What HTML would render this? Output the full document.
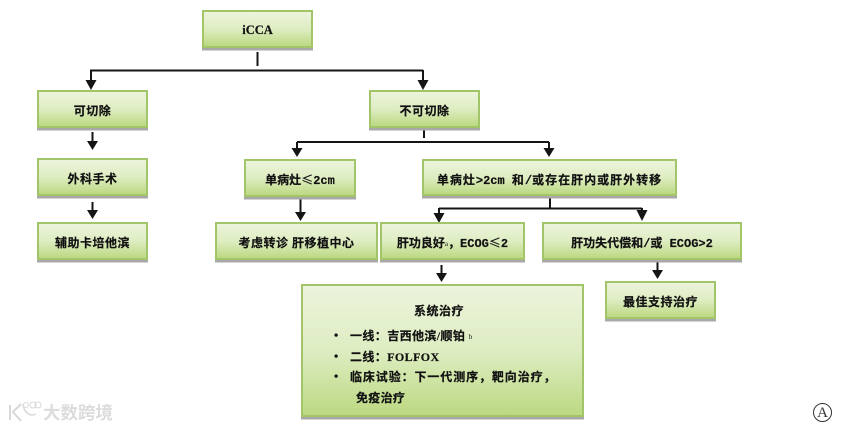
<!DOCTYPE html>
<html><head><meta charset="utf-8">
<style>
html,body{margin:0;padding:0;background:#fff}
#c{position:relative;width:868px;height:429px;overflow:hidden;background:#fff;font-family:"Liberation Serif","Noto Sans CJK SC",serif;color:#111}
.b{position:absolute;box-sizing:border-box;border:2px solid #a3c569;padding-top:3px;background:linear-gradient(180deg,#ecf4dc 0%,#deedc2 50%,#bcd982 100%);box-shadow:0 2.5px 0 #a8a8a8;display:flex;align-items:center;justify-content:center;font-size:12px;font-weight:bold;white-space:nowrap;-webkit-text-stroke:.2px #111}
.b span.w{display:inline-block;white-space:pre}
.t{position:absolute;font-size:12px;font-weight:bold;white-space:pre;line-height:14px;-webkit-text-stroke:.2px #111}
.m{font-family:"Liberation Mono",monospace;font-weight:bold;letter-spacing:0}
.s{font-family:"Noto Sans CJK SC",sans-serif;font-weight:normal}
svg{position:absolute;left:0;top:0}
sup{font-size:7px;font-weight:normal;position:relative;top:-1px;vertical-align:baseline;-webkit-text-stroke:0}
</style></head><body>
<div id="c">
<svg width="868" height="429" fill="none" stroke="#151515" stroke-width="2">
<path d="M257.500 52V66M90 70.500H423"/>
<path d="M91 70V82M423 70V82M92.500 132V143M92.500 202V212M424 130V138M297 142H549M297 142V150M549 142V150"/>
<path d="M300.500 199V214M550 198V208M439 208.500H642M439 208V215M642 208V212M441.500 265V275M657.500 262V272"/>
<g fill="#151515" stroke="none">
<path d="M85.500 80H96.500L91 90ZM417.500 80H428.500L423 90Z"/>
<path d="M87 141H98L92.500 150ZM87 210H98L92.500 219Z"/>
<path d="M291.500 148H302.500L297 157ZM543.500 148H554.500L549 157Z"/>
<path d="M295 212H306L300.500 221ZM433.500 213H444.500L439 223ZM636.500 210H647.500L642 221Z"/>
<path d="M436 273H447L441.500 282ZM652 270H663L657.500 279Z"/>
</g>
</svg>
<div class="b" style="left:202px;top:10px;width:111px;height:38px;font-size:12.500px">iCCA</div>
<div class="b" style="left:369px;top:90px;width:111px;height:38px;letter-spacing:.5px">不可切除</div>
<div class="b" style="left:37px;top:90px;width:111px;height:38px;letter-spacing:.5px">可切除</div>
<div class="b" style="left:37px;top:158px;width:111px;height:38px;letter-spacing:.5px">外科手术</div>
<div class="b" style="left:37px;top:222px;width:111px;height:38px;letter-spacing:.5px">辅助卡培他滨</div>
<div class="b" style="left:244px;top:159px;width:112px;height:38px"><span class="w">单病灶<span class="s">≤</span><span class="m">2cm</span></span></div>
<div class="b" style="left:422px;top:159px;width:255px;height:37px;letter-spacing:1px"><span class="w">单病灶<span class="m">&gt;2cm </span>和<span class="m">/</span>或存在肝内或肝外转移</span></div>
<div class="b" style="left:215px;top:222px;width:163px;height:38px;letter-spacing:.5px"><span class="w">考虑转诊 肝移植中心</span></div>
<div class="b" style="left:380px;top:222px;width:145px;height:38px"><span class="w">肝功良好<sup>a</sup>，<span class="m">ECOG</span><span class="s">≤</span><span class="m">2</span></span></div>
<div class="b" style="left:542px;top:222px;width:200px;height:38px"><span class="w">肝功失代偿和<span class="m">/</span>或<span class="m"> ECOG&gt;2</span></span></div>
<div class="b" style="left:605px;top:281px;width:111px;height:38px;letter-spacing:.5px">最佳支持治疗</div>
<div class="b" style="left:301px;top:284px;width:283px;height:133px"></div>
<div class="t" style="left:414px;top:304px;letter-spacing:.5px">系统治疗</div>
<div class="t" style="left:334px;top:328px">•</div><div class="t" style="left:350px;top:329px;letter-spacing:.4px">一线：吉西他滨/顺铂 <sup>b</sup></div>
<div class="t" style="left:334px;top:349px">•</div><div class="t" style="left:350px;top:350px;letter-spacing:.4px">二线：FOLFOX</div>
<div class="t" style="left:334px;top:369px">•</div><div class="t" style="left:350px;top:370px;letter-spacing:.9px">临床试验：下一代测序，靶向治疗，</div>
<div class="t" style="left:356px;top:391px;letter-spacing:.3px">免疫治疗</div>
<div style="position:absolute;left:813px;top:403px;width:19px;height:19px;box-sizing:border-box;border:1px solid #333;border-radius:50%;font-size:15px;line-height:18px;text-align:center;color:#333">A</div>
<svg width="868" height="429" fill="none" stroke="#d8d8d8" stroke-width="2">
<path d="M10 405V420M21 404L13 412L21 421"/>
<path d="M23 404C24 413 30 417 36 414" stroke-width="1.500"/>
<circle cx="26" cy="405" r="2.500" stroke-width="1"/><circle cx="33" cy="405" r="3" stroke-width="1"/><circle cx="38" cy="405" r="3" stroke-width="1"/>
</svg>
<div style="position:absolute;left:43px;top:403px;font:bold 17.500px 'Noto Sans CJK SC',sans-serif;line-height:19px;color:#dcdcdc;white-space:nowrap">大数跨境</div>
</div>
</body></html>
